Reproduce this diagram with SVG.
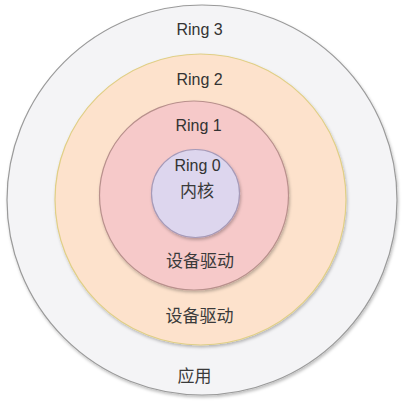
<svg xmlns="http://www.w3.org/2000/svg" width="406" height="405" viewBox="0 0 406 405">
<defs>
<filter id="sh" x="-10%" y="-10%" width="125%" height="125%">
<feDropShadow dx="1" dy="2" stdDeviation="1.5" flood-color="#000" flood-opacity="0.25"/>
</filter>
</defs>
<style>
.t{font-family:"Liberation Sans","Noto Sans CJK SC",sans-serif;font-size:16px;fill:#333;text-anchor:middle}
.c{font-family:"Noto Sans CJK SC","Liberation Sans",sans-serif;font-size:17px;fill:#3a3a3a;text-anchor:middle}
</style>
<rect width="406" height="405" fill="#fff"/>
<g id="ring3"><circle cx="202" cy="200" r="195" fill="#f4f4f6" stroke="#9a9a9a" stroke-width="1.2" filter="url(#sh)"/></g>
<g id="ring2"><circle cx="200.5" cy="199.5" r="145.5" fill="#fde2cc" stroke="#e0cf86" stroke-width="1.2" filter="url(#sh)"/></g>
<g id="ring1"><circle cx="194" cy="195.5" r="94.5" fill="#f6c9c9" stroke="#b8908c" stroke-width="1.2" filter="url(#sh)"/></g>
<g id="ring0"><circle cx="195.5" cy="193.5" r="44" fill="#ddd6ee" stroke="#a69ab8" stroke-width="1.2" filter="url(#sh)"/></g>
<g id="labels">
<text class="t" x="199.5" y="35">Ring 3</text>
<text class="t" x="199.5" y="84.5">Ring 2</text>
<text class="t" x="198.5" y="130.5">Ring 1</text>
<text class="t" x="197.5" y="170.5">Ring 0</text>
<text class="c" x="197" y="197">内核</text>
<text class="c" x="200" y="267">设备驱动</text>
<text class="c" x="199.5" y="322">设备驱动</text>
<text class="c" x="194.5" y="382">应用</text>
</g>
</svg>
